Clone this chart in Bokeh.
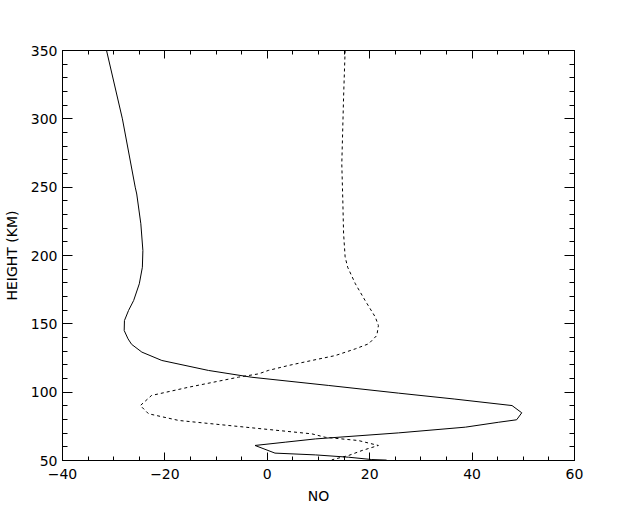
from bokeh.plotting import figure
from bokeh.models import LinearAxis, SingleIntervalTicker, Range1d
from bokeh.embed import file_html
from bokeh.resources import INLINE

# Solid profile (height km, NO value)
solid_height = [350, 300, 250, 245, 223.2, 203.7, 191.4, 179.3, 167.1, 159.8, 152.4, 145.1, 139,
                135, 129.3, 123.2, 115.9, 110.9, 104.9, 99.3, 95, 90.2, 84.9, 79.8, 78, 74.4,
                70.2, 65.8, 63.4, 61, 55.4, 54.1, 52.4, 50.7, 50.3]
solid_no = [-31.4, -28.3, -25.8, -25.5, -24.7, -24.3, -24.4, -25.0, -26.1, -27.1, -27.9, -27.95,
            -27.2, -26.5, -24.5, -20.6, -11.5, -3.0, 12.0, 25.6, 36.5, 47.8, 49.7, 48.7, 45.2,
            38.7, 25.6, 9.4, 3.5, -2.4, 1.5, 9.4, 15.9, 20.4, 23.3]

# Dashed profile
dash_height = [350, 316, 267, 240, 216, 199, 191.4, 179.3, 167.1, 154.9, 148.8, 141.5, 135.4,
               131.7, 126.8, 123.2, 119.5, 115.9, 113.4, 111, 103.6, 97.6, 90.2, 84.2, 79.3,
               74.4, 69.5, 67, 64.6, 61, 57.3, 53.7, 50.5]
dash_no = [15.2, 14.9, 14.55, 14.75, 14.9, 15.2, 15.7, 17.2, 19.1, 21.1, 21.7, 21.4, 19.8,
           17.2, 13.3, 8.7, 4.1, 0.2, -1.7, -5.6, -15.4, -22.6, -24.8, -23.2, -17.3,
           -4.3, 8.7, 11.3, 17.8, 21.7, 18.5, 15.9, 12.6]

x_start, x_end = -40, 60
y_start, y_end = 50, 350

FONT = "DejaVu Sans"

p = figure(output_backend="svg", toolbar_location=None,
           frame_width=512, frame_height=410,
           min_border_left=56, min_border_right=50, min_border_top=50, min_border_bottom=36,
           x_range=Range1d(x_start, x_end), y_range=Range1d(y_start, y_end),
           x_axis_label="NO", y_axis_label="HEIGHT (KM)")

p.background_fill_color = "white"
p.border_fill_color = "white"
p.outline_line_color = "black"
p.outline_line_width = 1
p.xgrid.visible = False
p.ygrid.visible = False

xt = SingleIntervalTicker(interval=20, num_minor_ticks=4)
yt = SingleIntervalTicker(interval=50, num_minor_ticks=5)

def style(ax, ticker, tin):
    ax.ticker = ticker
    ax.axis_line_color = "black"
    ax.axis_line_width = 1
    ax.major_tick_in = tin
    ax.major_tick_out = 0
    ax.minor_tick_in = tin // 2
    ax.minor_tick_out = 0
    ax.major_tick_line_color = "black"
    ax.minor_tick_line_color = "black"
    ax.major_label_text_font = FONT
    ax.major_label_text_font_size = "14px"
    ax.major_label_text_color = "black"
    ax.axis_label_text_font = FONT
    ax.axis_label_text_font_size = "14px"
    ax.axis_label_text_font_style = "normal"
    ax.axis_label_text_color = "black"

bx = p.xaxis[0]
style(bx, xt, 8)
bx.major_label_standoff = 8
bx.axis_label_standoff = 6
ly = p.yaxis[0]
style(ly, yt, 10)
ly.major_label_standoff = 5
ly.axis_label_standoff = 8

top = LinearAxis()
style(top, SingleIntervalTicker(interval=20, num_minor_ticks=4), 8)
top.major_label_overrides = {v: "" for v in range(-40, 61, 20)}
p.add_layout(top, "above")
right = LinearAxis()
style(right, SingleIntervalTicker(interval=50, num_minor_ticks=5), 10)
right.major_label_overrides = {v: "" for v in range(50, 351, 50)}
p.add_layout(right, "right")

p.line(solid_no, solid_height, line_color="black", line_width=1)
p.line(dash_no, dash_height, line_color="black", line_width=1, line_dash="3 3")

open("out.html", "w").write(file_html(p, INLINE))
